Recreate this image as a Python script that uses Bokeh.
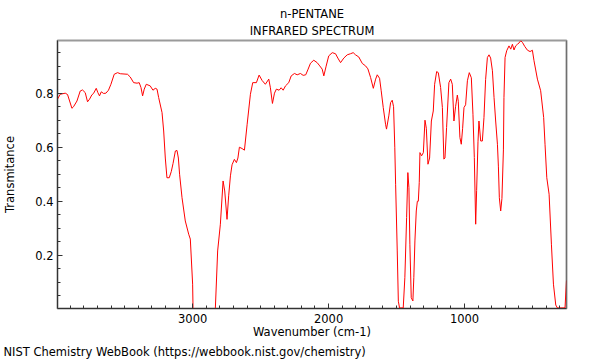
from bokeh.plotting import figure
from bokeh.models import Range1d, FixedTicker, Title, Span
from bokeh.embed import file_html
from bokeh.resources import INLINE

# ---- data ----
wavenumber = [3994, 3974, 3937, 3920, 3888, 3876, 3851, 3827, 3810, 3790,
              3773, 3758, 3741, 3729, 3709, 3697, 3685, 3672, 3655, 3638,
              3619, 3601, 3577, 3552, 3532, 3479, 3459, 3434, 3409, 3393,
              3380, 3368, 3356, 3341, 3312, 3292, 3275, 3262, 3250, 3225,
              3213, 3201, 3189, 3172, 3157, 3144, 3127, 3115, 3105, 3096,
              3078, 3054, 3029, 3017, 3000, 2997, 2833, 2816, 2796, 2776,
              2764, 2747, 2735, 2722, 2710, 2693, 2678, 2667, 2656, 2636,
              2619, 2599, 2575, 2558, 2531, 2511, 2489, 2465, 2440, 2428,
              2413, 2398, 2384, 2364, 2349, 2334, 2317, 2293, 2275, 2251,
              2231, 2207, 2187, 2168, 2153, 2133, 2109, 2084, 2065, 2047,
              2035, 2018, 1999, 1973, 1949, 1932, 1912, 1888, 1863, 1839,
              1819, 1802, 1778, 1752, 1728, 1711, 1691, 1671, 1654, 1642,
              1625, 1613, 1598, 1581, 1574, 1557, 1544, 1532, 1522, 1513,
              1507, 1495, 1487, 1478, 1451, 1439, 1426, 1417, 1409, 1402,
              1392, 1380, 1373, 1365, 1355, 1347, 1340, 1333, 1328, 1316,
              1303, 1291, 1281, 1269, 1257, 1244, 1230, 1220, 1205, 1193,
              1176, 1163, 1152, 1144, 1132, 1115, 1102, 1090, 1078, 1066,
              1053, 1046, 1034, 1024, 1014, 1004, 992, 979, 965, 950,
              938, 928, 918, 911, 901, 894, 881, 869, 857, 845,
              832, 820, 808, 795, 783, 771, 758, 751, 744, 734,
              725, 714, 710, 702, 690, 673, 660, 648, 636, 624,
              611, 599, 587, 574, 557, 537, 518, 501, 489, 464,
              440, 418, 408, 395, 378, 361, 346, 329, 317, 261,
              250]

transmittance = [0.778, 0.796, 0.800, 0.795, 0.744, 0.750, 0.771, 0.808, 0.812, 0.802,
                 0.768, 0.778, 0.794, 0.799, 0.818, 0.802, 0.790, 0.805, 0.799, 0.800,
                 0.811, 0.833, 0.870, 0.876, 0.872, 0.870, 0.860, 0.839, 0.837, 0.839,
                 0.821, 0.790, 0.815, 0.833, 0.827, 0.811, 0.818, 0.815, 0.784, 0.728,
                 0.660, 0.560, 0.487, 0.487, 0.510, 0.540, 0.586, 0.588, 0.560, 0.500,
                 0.413, 0.327, 0.278, 0.260, 0.093, 0.002, 0.002, 0.216, 0.315, 0.475,
                 0.438, 0.333, 0.420, 0.494, 0.535, 0.555, 0.543, 0.560, 0.600, 0.595,
                 0.589, 0.685, 0.796, 0.839, 0.839, 0.867, 0.847, 0.833, 0.852, 0.820,
                 0.762, 0.800, 0.815, 0.811, 0.820, 0.811, 0.827, 0.839, 0.864, 0.873,
                 0.868, 0.873, 0.866, 0.868, 0.886, 0.911, 0.922, 0.913, 0.901, 0.889,
                 0.864, 0.900, 0.938, 0.950, 0.946, 0.930, 0.913, 0.930, 0.942, 0.946,
                 0.950, 0.942, 0.934, 0.910, 0.901, 0.890, 0.858, 0.818, 0.852, 0.868,
                 0.855, 0.809, 0.747, 0.685, 0.667, 0.716, 0.765, 0.774, 0.750, 0.600,
                 0.463, 0.216, 0.030, 0.005, 0.005, 0.117, 0.340, 0.506, 0.450, 0.241,
                 0.043, 0.031, 0.117, 0.253, 0.364, 0.400, 0.400, 0.470, 0.580, 0.568,
                 0.580, 0.700, 0.670, 0.537, 0.560, 0.697, 0.734, 0.833, 0.880, 0.876,
                 0.821, 0.747, 0.556, 0.560, 0.673, 0.839, 0.852, 0.833, 0.697, 0.750,
                 0.793, 0.770, 0.636, 0.611, 0.670, 0.747, 0.757, 0.846, 0.876, 0.857,
                 0.722, 0.562, 0.315, 0.440, 0.620, 0.697, 0.623, 0.623, 0.710, 0.850,
                 0.932, 0.942, 0.930, 0.883, 0.784, 0.697, 0.611, 0.530, 0.413, 0.364,
                 0.410, 0.590, 0.784, 0.932, 0.957, 0.975, 0.963, 0.981, 0.960, 0.975,
                 0.981, 0.986, 0.994, 0.988, 0.973, 0.959, 0.954, 0.959, 0.920, 0.852,
                 0.809, 0.710, 0.611, 0.487, 0.426, 0.241, 0.093, 0.016, 0.005, 0.005,
                 0.107]

x_major_ticks = [3000, 2000, 1000]
x_minor_ticks = list(range(300, 4000, 100))
y_major_ticks = [0.2, 0.4, 0.6, 0.8]
y_minor_ticks = [0.05, 0.1, 0.15, 0.25, 0.3, 0.35, 0.45, 0.5, 0.55, 0.65, 0.7, 0.75, 0.85, 0.9, 0.95]

FONT = "DejaVu Sans"
FS = "11.5px"

p = figure(width=600, height=360,
           x_range=Range1d(3994, 250), y_range=Range1d(0.003, 0.995),
           output_backend="svg", toolbar_location=None,
           min_border_left=57, min_border_right=34,
           min_border_top=40, min_border_bottom=52,
           background_fill_color="white", border_fill_color="white")

# outer title line
p.title.text = "n-PENTANE"
p.title.align = "center"
p.title.text_font = FONT
p.title.text_font_size = FS
p.title.text_font_style = "normal"
p.title.text_color = "#000000"
p.title.standoff = -5.5

# inner title line (closer to the frame)
sub = Title(text="INFRARED SPECTRUM", align="center", text_font=FONT,
            text_font_size=FS, text_font_style="normal", text_color="#000000",
            standoff=6)
p.add_layout(sub, "above")

p.xgrid.visible = False
p.ygrid.visible = False
p.outline_line_color = "#9a9a9a"
p.outline_line_width = 2

for ax in (p.xaxis[0], p.yaxis[0]):
    ax.axis_line_color = "#333333"
    ax.major_tick_line_color = "#333333"
    ax.minor_tick_line_color = "#333333"
    ax.major_tick_in = 5
    ax.major_tick_out = 0
    ax.minor_tick_in = 3
    ax.minor_tick_out = 0
    ax.major_label_text_font = FONT
    ax.major_label_text_font_size = FS
    ax.major_label_text_color = "#000000"
    ax.axis_label_text_font = FONT
    ax.axis_label_text_font_size = FS
    ax.axis_label_text_font_style = "normal"
    ax.axis_label_text_color = "#000000"
    ax.major_label_standoff = 4

p.xaxis[0].ticker = FixedTicker(ticks=x_major_ticks, minor_ticks=x_minor_ticks)
p.yaxis[0].ticker = FixedTicker(ticks=y_major_ticks, minor_ticks=y_minor_ticks)
p.xaxis[0].axis_label = "Wavenumber (cm-1)"
p.xaxis[0].major_label_standoff = 5
p.xaxis[0].axis_label_standoff = -1
p.yaxis[0].axis_label = "Transmitance"
p.yaxis[0].axis_label_standoff = 15

p.add_layout(Span(location=250, dimension="height", line_color="#444444", line_width=1))

footer = Title(text="NIST Chemistry WebBook (https://webbook.nist.gov/chemistry)",
               align="left", offset=-54, text_font=FONT, text_font_size=FS,
               text_font_style="normal", text_color="#000000", standoff=2)
p.add_layout(footer, "below")

p.line(wavenumber, transmittance, line_color="#ff0000", line_width=1)

open("out.html", "w").write(file_html(p, INLINE))
